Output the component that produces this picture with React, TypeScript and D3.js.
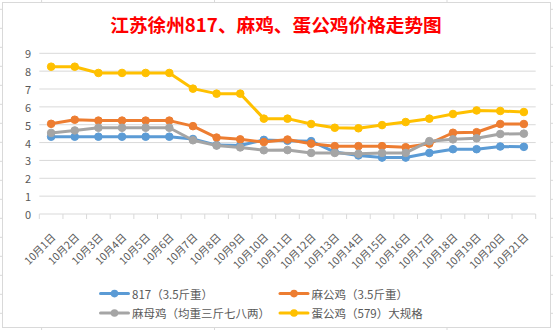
import React from "react";
import * as d3 from "d3";

const dates = Array.from({ length: 21 }, (_, i) => `10月${i + 1}日`);
const s817 = [4.33, 4.33, 4.33, 4.33, 4.33, 4.33, 4.2, 3.86, 3.84, 4.15, 4.1, 4.08, 3.47, 3.28, 3.16, 3.16, 3.42, 3.63, 3.63, 3.78, 3.76];
const sMaGong = [5.05, 5.28, 5.23, 5.23, 5.23, 5.23, 4.92, 4.28, 4.18, 4.03, 4.17, 3.94, 3.8, 3.8, 3.8, 3.74, 3.94, 4.55, 4.58, 5.04, 5.04];
const sMaMu = [4.54, 4.68, 4.83, 4.83, 4.83, 4.83, 4.13, 3.83, 3.73, 3.57, 3.58, 3.42, 3.42, 3.37, 3.42, 3.42, 4.08, 4.18, 4.24, 4.48, 4.5];
const sDanGong = [8.25, 8.25, 7.9, 7.9, 7.9, 7.9, 7.02, 6.74, 6.74, 5.34, 5.34, 5.04, 4.83, 4.8, 4.98, 5.15, 5.34, 5.6, 5.8, 5.77, 5.71];
const seriesNames = ["817（3.5斤重）", "麻公鸡（3.5斤重）", "麻母鸡（均重三斤七八两）", "蛋公鸡（579）大规格"];
const yTicks = [0, 1, 2, 3, 4, 5, 6, 7, 8, 9];
const title = "江苏徐州817、麻鸡、蛋公鸡价格走势图";

const series = [
  { name: seriesNames[0], values: s817, color: "#5B9BD5" },
  { name: seriesNames[1], values: sMaGong, color: "#ED7D31" },
  { name: seriesNames[2], values: sMaMu, color: "#A5A5A5" },
  { name: seriesNames[3], values: sDanGong, color: "#FFC000" },
];

const W = 553;
const H = 330;
const FONT = "'Noto Sans CJK SC', 'Noto Sans', sans-serif";

export default function App() {
  const x = d3.scaleBand<string>().domain(dates).range([39.3, 535.7]).paddingInner(0).paddingOuter(0);
  const y = d3.scaleLinear().domain([0, 9]).range([214, 53.3]);
  const cx = (d: string) => (x(d) as number) + x.bandwidth() / 2;
  const line = d3
    .line<number>()
    .x((_, i) => cx(dates[i]))
    .y((v) => y(v));

  const sheetRows = d3.range(0, 18).map((k) => 9.3 + 19 * k);
  const sheetCols = [41.6, 214.5, 447];
  const ticksX = [...dates.map((d) => x(d) as number), 535.7];

  const legendPos = [
    { lx: 100.5, ly: 293.6 },
    { lx: 280, ly: 293.6 },
    { lx: 100.5, ly: 313 },
    { lx: 280, ly: 313 },
  ];

  return (
    <svg
      width={W}
      height={H}
      style={{ position: "absolute", left: 0, top: 0, display: "block", background: "#fff" }}
      fontFamily={FONT}
    >
      {/* spreadsheet grid behind chart */}
      <g stroke="#D9D9D9" strokeWidth={1}>
        {sheetRows.map((r, i) => (
          <line key={"r" + i} x1={0} x2={W} y1={r} y2={r} />
        ))}
        {sheetCols.map((c, i) => (
          <line key={"c" + i} x1={c} x2={c} y1={0} y2={H} />
        ))}
      </g>
      {/* chart area */}
      <rect x={2.5} y={2.5} width={548} height={325} fill="#fff" stroke="#D9D9D9" strokeWidth={1} />

      <text x={276} y={23} textAnchor="middle" dominantBaseline="central" fill="#FF0000" fontSize={18.67} fontWeight="bold">
        {title}
      </text>

      {/* gridlines */}
      <g>
        {yTicks.map((t) => (
          <g key={t}>
            {t > 0 && <line x1={39.3} x2={535.7} y1={y(t)} y2={y(t)} stroke="#D9D9D9" strokeWidth={1} />}
            <text x={31} y={y(t)} textAnchor="end" dominantBaseline="central" fontSize={11} fill="#595959">
              {t}
            </text>
          </g>
        ))}
      </g>
      {/* x axis */}
      <line x1={39.3} x2={535.7} y1={y(0)} y2={y(0)} stroke="#D9D9D9" strokeWidth={1} />
      {ticksX.map((t, i) => (
        <line key={i} x1={t} x2={t} y1={y(0)} y2={y(0) + 5} stroke="#D9D9D9" strokeWidth={1} />
      ))}
      {dates.map((d) => (
        <text
          key={d}
          transform={`translate(${cx(d) + 2},235) rotate(-45)`}
          textAnchor="end"
          dominantBaseline="central"
          fontSize={10.5}
          fill="#595959"
        >
          {d}
        </text>
      ))}

      {/* series */}
      {series.map((s) => (
        <g key={s.name}>
          <path d={line(s.values) || ""} fill="none" stroke={s.color} strokeWidth={3} strokeLinejoin="round" strokeLinecap="round" />
          {s.values.map((v, i) => (
            <circle key={i} cx={cx(dates[i])} cy={y(v)} r={3.8} fill={s.color} stroke={s.color} strokeWidth={1} />
          ))}
        </g>
      ))}

      {/* legend */}
      {series.map((s, i) => {
        const p = legendPos[i];
        return (
          <g key={"lg" + i}>
            <line x1={p.lx} x2={p.lx + 28} y1={p.ly} y2={p.ly} stroke={s.color} strokeWidth={3} strokeLinecap="round" />
            <circle cx={p.lx + 14} cy={p.ly} r={3.8} fill={s.color} />
            <text x={p.lx + 31.5} y={p.ly} dominantBaseline="central" fontSize={11.5} fill="#595959">
              {s.name}
            </text>
          </g>
        );
      })}
    </svg>
  );
}
